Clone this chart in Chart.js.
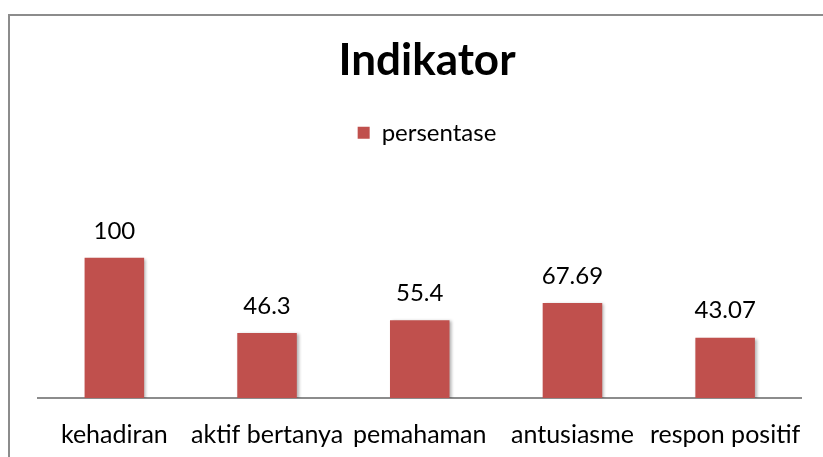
<!DOCTYPE html>
<html>
<head>
<meta charset="utf-8">
<script src="https://cdn.jsdelivr.net/npm/chart.js@4"></script>
<style>
  html, body { margin: 0; padding: 0; background: #fff; }
  #wrap { width: 823px; height: 457px; }
</style>
</head>
<body>
<div id="wrap"><canvas id="indikatorChart"></canvas></div>
<script>
'use strict'

const categories = ['kehadiran', 'aktif bertanya', 'pemahaman', 'antusiasme', 'respon positif'];
const persentase = [100, 46.3, 55.4, 67.69, 43.07];
const seriesName = 'persentase';
const chartTitle = 'Indikator';

const FONT = 'Lato, "Noto Sans", sans-serif';

// outer frame of the chart, cut off at the right and bottom like the picture
const framePlugin = {
    id: 'frame',
    beforeDraw(chart) {
        const ctx = chart.ctx;
        ctx.save();
        ctx.strokeStyle = '#8c8c8c';
        ctx.lineWidth = 2;
        ctx.strokeRect(9, 15, 900, 600);
        ctx.restore();
    }
};

// extra room between the legend and the bars
const legendGap = {
    id: 'legendGap',
    beforeInit(chart) {
        const fit = chart.legend.fit;
        chart.legend.fit = function () {
            fit.bind(chart.legend)();
            this.height += 75;
        };
    }
};

// soft shadow under the bars
const barShadow = {
    id: 'barShadow',
    beforeDatasetDraw(chart) {
        const ctx = chart.ctx;
        ctx.save();
        ctx.shadowColor = 'rgba(0, 0, 0, 0.3)';
        ctx.shadowBlur = 3;
        ctx.shadowOffsetX = 2;
        ctx.shadowOffsetY = 1;
    },
    afterDatasetDraw(chart) {
        chart.ctx.restore();
    }
};

// value labels above each bar
const valueLabels = {
    id: 'valueLabels',
    afterDatasetsDraw(chart) {
        const ctx = chart.ctx;
        const meta = chart.getDatasetMeta(0);
        ctx.save();
        ctx.font = '24px ' + FONT;
        ctx.fillStyle = '#000';
        ctx.textAlign = 'center';
        ctx.textBaseline = 'bottom';
        meta.data.forEach((bar, i) => {
            ctx.fillText(String(persentase[i]), bar.x, bar.y - 15);
        });
        ctx.restore();
    }
};

new Chart(document.getElementById('indikatorChart'), {
    type: 'bar',
    data: {
        labels: categories,
        datasets: [{
            label: seriesName,
            data: persentase,
            backgroundColor: '#c0504d',
            borderWidth: 0,
            categoryPercentage: 1,
            barPercentage: 0.39
        }]
    },
    options: {
        responsive: true,
        maintainAspectRatio: false,
        animation: false,
        layout: { padding: { left: 38, right: 7, top: 0, bottom: -15 } },
        plugins: {
            tooltip: { enabled: false },
            title: {
                display: true,
                text: chartTitle,
                color: '#000',
                font: { family: FONT, size: 44, weight: 'bold' },
                padding: { top: 34, bottom: 26 }
            },
            legend: {
                display: true,
                position: 'top',
                labels: {
                    color: '#000',
                    font: { family: FONT, size: 24 },
                    boxWidth: 12,
                    boxHeight: 12,
                    padding: 8
                }
            }
        },
        scales: {
            x: {
                grid: { display: false, drawTicks: false },
                border: { display: true, color: '#8c8c8c', width: 2 },
                ticks: {
                    color: '#000',
                    font: { family: FONT, size: 25 },
                    padding: 22,
                    maxRotation: 0,
                    autoSkip: false
                }
            },
            y: {
                display: false,
                min: 0,
                max: 120
            }
        }
    },
    plugins: [framePlugin, legendGap, barShadow, valueLabels]
});
</script>
</body>
</html>
